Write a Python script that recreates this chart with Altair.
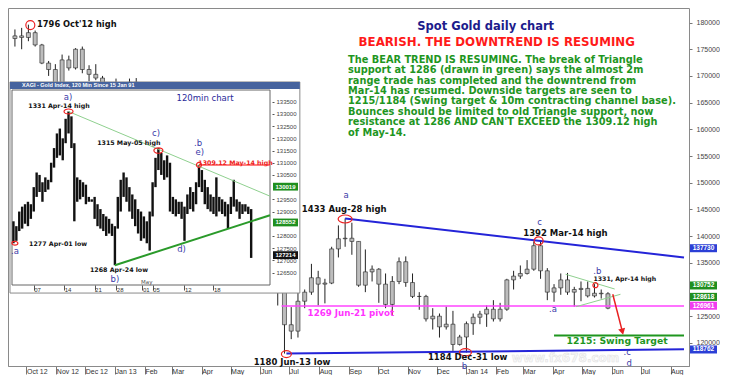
import altair as alt
import pandas as pd

FONT = "DejaVu Sans"
AXFONT = "Liberation Sans"

# ---------------- main daily chart: weekly OHLC ----------------
week_start = pd.date_range("2012-09-17", periods=89, freq="7D")
w_open = [1770, 1775, 1772, 1781, 1758, 1724, 1712, 1677, 1730, 1715, 1750, 1712, 1703, 1696, 1658, 1657,
          1656, 1662, 1688, 1658, 1668, 1667, 1610, 1575, 1572, 1578, 1592, 1608, 1597, 1579, 1476, 1405, 1463,
          1470, 1435, 1360, 1387, 1392, 1384, 1387, 1296,
          1234, 1222, 1278, 1295, 1322, 1310, 1312, 1376, 1395, 1396, 1390, 1308, 1333, 1338, 1310, 1272, 1315,
          1352, 1313, 1287, 1287, 1245, 1250, 1230, 1235, 1197, 1211,
          1236, 1248, 1254, 1263, 1245, 1263, 1318, 1325, 1330, 1338, 1382, 1335, 1295, 1303, 1318, 1295, 1300,
          1302, 1288, 1293, 1292]
w_high = [1787, 1790, 1796, 1785, 1760, 1728, 1722, 1740, 1738, 1752, 1755, 1720, 1722, 1700, 1670, 1695,
          1678, 1695, 1696, 1685, 1684, 1678, 1615, 1620, 1590, 1598, 1617, 1612, 1605, 1590, 1480, 1480, 1488,
          1480, 1440, 1415, 1415, 1425, 1395, 1392, 1298,
          1267, 1297, 1300, 1348, 1335, 1320, 1380, 1420, 1433, 1425, 1390, 1375, 1345, 1340, 1330, 1325, 1360,
          1362, 1330, 1295, 1290, 1265, 1255, 1268, 1260, 1215, 1240,
          1255, 1260, 1270, 1280, 1275, 1320, 1335, 1345, 1355, 1390, 1392, 1340, 1310, 1330, 1331, 1305, 1315,
          1315, 1310, 1300, 1295]
w_low = [1755, 1750, 1765, 1755, 1722, 1700, 1673, 1677, 1710, 1712, 1705, 1690, 1692, 1635, 1646, 1626,
         1645, 1660, 1655, 1653, 1660, 1605, 1555, 1565, 1563, 1575, 1590, 1590, 1540, 1475, 1321, 1395, 1440,
         1430, 1340, 1335, 1375, 1375, 1366, 1270, 1180,
         1207, 1210, 1265, 1290, 1270, 1274, 1310, 1360, 1380, 1365, 1305, 1295, 1315, 1275, 1265, 1251, 1310,
         1305, 1284, 1262, 1240, 1225, 1210, 1225, 1185, 1195, 1182,
         1215, 1235, 1230, 1240, 1240, 1260, 1300, 1320, 1328, 1335, 1320, 1280, 1277, 1290, 1290, 1268, 1278,
         1285, 1285, 1283, 1263]
w_close = [1775, 1772, 1781, 1758, 1724, 1712, 1677, 1730, 1715, 1750, 1712, 1703, 1696, 1658, 1657, 1656,
           1662, 1688, 1658, 1668, 1667, 1610, 1575, 1572, 1578, 1592, 1608, 1597, 1579, 1476, 1405, 1463, 1470,
           1435, 1360, 1387, 1392, 1384, 1387, 1296, 1234,
           1222, 1278, 1295, 1322, 1310, 1312, 1376, 1395, 1396, 1390, 1308, 1333, 1338, 1310, 1272, 1315, 1352,
           1313, 1287, 1287, 1245, 1250, 1230, 1235, 1197, 1211, 1236,
           1248, 1254, 1263, 1245, 1263, 1318, 1325, 1330, 1338, 1382, 1335, 1295, 1303, 1318, 1295, 1300, 1302,
           1288, 1293, 1292, 1265]

# 1300 sits under the value tags in the reference
y_ticks = [1200, 1250, 1350, 1400, 1450, 1500, 1550, 1600, 1650, 1700, 1750, 1800]

# trend / target lines (start date, start price, end date, end price)
ln_d1 = ["2013-08-28", "2013-06-28", "2013-06-23", "2014-04-02", "2014-04-14", "2014-04-25", "2014-06-02"]
ln_p1 = [1433, 1180, 1269, 1214, 1328.5, 1267.8, 1291]
ln_d2 = ["2014-08-15", "2014-08-15", "2014-08-15", "2014-08-15", "2014-06-04", "2014-06-10", "2014-06-12"]
ln_p2 = [1360, 1188, 1269, 1214, 1300.9, 1291, 1221]
ln_color = ["#2424d8", "#2424d8", "#ff44ff", "#1f961f", "#8fd08f", "#8fd08f", "#e82020"]
ln_width = [2, 2, 1.6, 2, 1, 1, 1.5]

# red circled pivots
ci_date = ["2012-10-05", "2013-08-28", "2014-03-17", "2013-06-28", "2013-12-31", "2014-05-15"]
ci_price = [1795.3, 1432, 1391, 1179, 1182.4, 1308]
ci_w = [9, 14, 9, 10, 12, 5]
ci_ratio = [1.0, 0.57, 0.9, 0.7, 0.6, 1.0]

# bold annotations (left aligned)
an_date = ["2012-10-12", "2013-07-14", "2014-03-01", "2014-05-13", "2013-07-20", "2013-05-25", "2013-11-22",
           "2014-04-15", "2013-11-11", "2013-09-11"]
an_price = [1795.3, 1450.2, 1405.8, 1319.7, 1256.6, 1164.8, 1173.5, 1203.6, 1792.1, 1764.0]
an_text = ["1796 Oct'12 high", "1433 Aug-28 high", "1392 Mar-14 high", "1331, Apr-14 high", "1269 Jun-21 pivot",
           "1180 Jun-13 low", "1184 Dec-31 low", "1215: Swing Target", "Spot Gold daily chart",
           "BEARISH. THE DOWNTREND IS RESUMING"]
an_color = ["#111111", "#111111", "#111111", "#111111", "#ff33ff", "#111111", "#111111", "#1f961f", "#1c1c8c",
            "#ff1a1a"]
an_size = [8.3, 8.5, 8.5, 6.2, 8.7, 8.5, 8.5, 9.3, 11.5, 11.8]

para_lines = [
    "The BEAR TREND IS RESUMING. The break of Triangle",
    "support at 1286 (drawn in green) says the almost 2m",
    "range trade has completed and the downtrend from",
    "Mar-14 has resumed. Downside targets are seen to",
    "1215/1184 (Swing target & 10m contracting channel base).",
    "Bounces should be limited to old Triangle support, now",
    "resistance at 1286 AND CAN'T EXCEED the 1309.12 high",
    "of May-14.",
]
para_date = "2013-08-31"
para_price = 1739.7

wv_date = ["2013-08-29", "2014-03-18", "2014-05-17", "2014-04-01", "2013-12-30", "2014-06-17", "2014-06-19"]
wv_price = [1477, 1425.8, 1334.6, 1262.9, 1156.5, 1183.0, 1162.5]
wv_text = ["a", "c", ".b", ".a", "b", ".c", "d"]

tag_price = [1377.30, 1307.52, 1286.18, 1269.61, 1187.62]
tag_text = ["137730", "130752", "128618", "126961", "118762"]
tag_color = ["#2b3fd6", "#1f8f1f", "#1f8f1f", "#f03cf0", "#2b3fd6"]

# ---------------- inset 120-min chart (half-day bars) ----------------
in_low = [1277, 1278, 1282, 1283, 1285, 1284, 1287, 1290, 1296, 1298, 1294, 1298, 1299, 1302, 1308, 1312, 1313,
          1311, 1318, 1322, 1316, 1286, 1294, 1295, 1296, 1293, 1294, 1294, 1287, 1284, 1283, 1282, 1280, 1281,
          1280, 1268, 1283, 1290, 1296, 1294, 1290, 1287, 1284, 1281, 1278, 1279, 1277, 1274, 1288, 1300, 1307,
          1305, 1303, 1304, 1290, 1289, 1288, 1289, 1287, 1278, 1289, 1291, 1290, 1293, 1300, 1298, 1293, 1291,
          1290, 1289, 1288, 1290, 1289, 1288, 1283, 1289, 1292, 1290, 1287, 1289, 1290, 1289, 1271]
in_high = [1286, 1284, 1290, 1292, 1293, 1294, 1293, 1300, 1306, 1305, 1302, 1304, 1303, 1310, 1316, 1322, 1324,
           1320, 1328, 1331, 1329, 1318, 1304, 1303, 1302, 1301, 1296, 1295, 1296, 1293, 1291, 1289, 1288, 1287,
           1285, 1284, 1296, 1303, 1306, 1304, 1300, 1297, 1295, 1291, 1290, 1288, 1286, 1290, 1302, 1312, 1316,
           1314, 1311, 1313, 1310, 1296, 1295, 1294, 1294, 1292, 1297, 1300, 1298, 1302, 1309, 1307, 1303, 1300,
           1297, 1296, 1304, 1296, 1295, 1294, 1293, 1296, 1303, 1295, 1294, 1293, 1293, 1292, 1291]

in_x_tick_pos = [7, 17.5, 28, 35.5, 44.5, 48, 59, 69]
in_x_tick_lab = ["07", "14", "21", "28", "01", "05", "12", "18"]
# 1285 and 1300 are hidden under the value tags in the reference
in_y_ticks = [1265, 1270, 1275, 1280, 1290, 1295, 1305, 1310, 1315, 1320, 1325, 1330, 1335]

il_x1 = [19, 35, 64]
il_p1 = [1331, 1268, 1309.12]
il_x2 = [88.5, 88.5, 88.5]
il_p2 = [1296.3, 1288.5, 1309.12]
il_color = ["#8fd08f", "#2a9a2a", "#ff5555"]
il_width = [1, 2, 1.5]

ic_x = [19, 0.5, 50, 64]
ic_price = [1331, 1277, 1315, 1309.12]
ic_w = [9, 6, 9, 5]
ic_ratio = [0.55, 0.6, 0.6, 1.0]

ib_x = [15.7, 39.8, 15.4, 36.4, 76.6]
ib_price = [1333.2, 1318.1, 1276.6, 1266.0, 1310.0]
ib_text = ["1331 Apr-14 high", "1315 May-05 high", "1277 Apr-01 low", "1268 Apr-24 low", "1309.12 May-14 high"]
ib_color = ["#111111", "#111111", "#111111", "#111111", "#ee2222"]

iw_x = [18.8, 49.2, 63.7, 64.3, 0.5, 35.0, 58.0]
iw_price = [1336.9, 1322.3, 1318.0, 1314.3, 1274.0, 1262.2, 1274.6]
iw_text = ["a)", "c)", ".b", "e)", ".a", "b)", "d)"]

itag_price = [1300.19, 1285.52, 1272.14]
itag_text = ["130019", "128552", "127214"]
itag_color = ["#1f8f1f", "#1f8f1f", "#111111"]

# ---------------- geometry ----------------
W, H = 681, 358

# ---------------- scales & axes ----------------
X_MAIN = alt.Scale(type="utc", domain=[alt.DateTime(year=2012, month=9, date=17, utc=True),
                                       alt.DateTime(year=2014, month=8, date=15, utc=True)])
Y_MAIN = alt.Scale(domain=[1156.7, 1827.2], nice=False, zero=False)
AX_X = alt.Axis(orient="bottom", title=None, tickCount={"interval": "month", "step": 1},
                labelExpr="utcFormat(datum.value, (utcmonth(datum.value) == 0 || utcyear(datum.value) == 2012) ? ' %b %y' : ' %b')",
                labelAlign="left", labelBaseline="top", labelPadding=-7, tickSize=8,
                labelFontSize=7, labelFont=AXFONT, labelColor="#333333", labelFlush=False, labelOverlap=False,
                grid=False, domainColor="#8a8a8a", tickColor="#777777")
AX_Y = alt.Axis(orient="right", title=None, values=y_ticks, labelExpr="format(datum.value * 100, 'd')",
                labelFontSize=7, labelFont=AXFONT, labelColor="#444444", tickSize=3, grid=False,
                domainColor="#8a8a8a", domainDash=[1, 1], tickColor="#777777", labelPadding=4)

X_IN = alt.Scale(domain=[-0.5, 88.5], range=[4, 262], nice=False, zero=False)
Y_IN = alt.Scale(domain=[1259.9, 1339.8], range=[277, 82], nice=False, zero=False)
lab_arr = "[" + ",".join("' " + s + "'" for s in in_x_tick_lab) + "]"
pos_arr = "[" + ",".join(str(p) for p in in_x_tick_pos) + "]"
AX_XI = alt.Axis(orient="bottom", offset=-(H - 277), title=None, values=in_x_tick_pos,
                 labelExpr=lab_arr + "[indexof(" + pos_arr + ", datum.value)]",
                 labelAlign="left", labelBaseline="top", labelPadding=-4, tickSize=5,
                 labelFontSize=6, labelFont=AXFONT, labelColor="#333333", domain=False, grid=False,
                 tickColor="#555555", zindex=1, labelOverlap=False, labelFlush=False)
AX_YI = alt.Axis(orient="right", offset=-(W - 264), title=None, values=in_y_ticks,
                 labelExpr="format(datum.value * 100, 'd')", labelFontSize=6, labelFont=AXFONT,
                 labelColor="#444444", tickSize=2, labelPadding=2, domain=False, grid=False,
                 tickColor="#555555", zindex=1)


def mx(f):
    return alt.X(f, type="temporal", scale=X_MAIN, axis=AX_X)


def my(f):
    return alt.Y(f, type="quantitative", scale=Y_MAIN, axis=AX_Y)


def ix(f):
    return alt.X(f, type="quantitative", scale=X_IN, axis=AX_XI)


def iy(f):
    return alt.Y(f, type="quantitative", scale=Y_IN, axis=AX_YI)


def ellipse(r):
    return "M-1,0A1,{0},0,1,1,1,0A1,{0},0,1,1,-1,0Z".format(r)


# ---------------- main layers ----------------
candles = pd.DataFrame({
    "mid": (week_start + pd.Timedelta(days=2)).strftime("%Y-%m-%d"),
    "open": w_open, "high": w_high, "low": w_low, "close": w_close,
})
wick = alt.Chart(candles).mark_rule(color="#222222", strokeWidth=1).encode(
    x=mx("mid"), y=my("low"), y2="high")
body = alt.Chart(candles).mark_bar(size=4, fill="#bdbdbd", stroke="#222222", strokeWidth=0.6).encode(
    x=mx("mid"), y=my("open"), y2="close")

lines_df = pd.DataFrame({"d1": ln_d1, "p1": ln_p1, "d2": ln_d2, "p2": ln_p2, "c": ln_color, "w": ln_width})
lines_main = alt.Chart(lines_df).mark_rule().encode(
    x=mx("d1"), x2="d2", y=my("p1"), y2="p2",
    color=alt.Color("c:N", scale=None), size=alt.Size("w:Q", scale=None))

arrow_df = pd.DataFrame({"d": [ln_d2[-1]], "p": [ln_p2[-1]]})
arrow_head = alt.Chart(arrow_df).mark_point(shape="triangle-down", filled=True, color="#e82020",
                                            size=50, angle=346, opacity=1).encode(x=mx("d"), y=my("p"))

circ_df = pd.DataFrame({"d": ci_date, "p": ci_price,
                        "shape": [ellipse(r) for r in ci_ratio], "size": [w * w for w in ci_w]})
circles_main = alt.Chart(circ_df).mark_point(filled=False, color="#ee2222", strokeWidth=1.2, opacity=1).encode(
    x=mx("d"), y=my("p"), shape=alt.Shape("shape:N", scale=None), size=alt.Size("size:Q", scale=None))

ann_df = pd.DataFrame({"d": an_date, "p": an_price, "t": an_text, "c": an_color, "s": an_size})
ann_main = alt.Chart(ann_df).mark_text(align="left", baseline="middle", fontWeight="bold", font=FONT).encode(
    x=mx("d"), y=my("p"), text="t:N", color=alt.Color("c:N", scale=None), size=alt.Size("s:Q", scale=None))

para_df = pd.DataFrame({"d": [para_date], "p": [para_price], "t": ["\n".join(para_lines)]})
para = alt.Chart(para_df).mark_text(align="left", baseline="top", fontWeight="bold", font=FONT, fontSize=9.8,
                                    lineBreak="\n", lineHeight=10.4, color="#1f961f").encode(
    x=mx("d"), y=my("p"), text="t:N")

wave_df = pd.DataFrame({"d": wv_date, "p": wv_price, "t": wv_text})
waves = alt.Chart(wave_df).mark_text(align="center", baseline="middle", font=FONT, fontSize=8.5,
                                     color="#3a3aa8").encode(x=mx("d"), y=my("p"), text="t:N")

wm_df = pd.DataFrame({"d": ["2014-04-14"], "p": [1171.0], "t": ["www.fx678.com"]})
watermark = alt.Chart(wm_df).mark_text(align="center", baseline="middle", font=FONT, fontSize=12,
                                       fontWeight="bold", fill="#f4f4f4", stroke="#d0d0d0", strokeWidth=0.6,
                                       opacity=0.6).encode(x=mx("d"), y=my("p"), text="t:N")

tag_df = pd.DataFrame({"p": tag_price, "top": [v + 7.5 for v in tag_price], "bot": [v - 7.5 for v in tag_price],
                       "t": tag_text, "c": tag_color})
tag_rect = alt.Chart(tag_df).mark_rect().encode(
    x=alt.value(W + 1), x2=alt.value(W + 28), y=my("top"), y2="bot", color=alt.Color("c:N", scale=None))
tag_txt = alt.Chart(tag_df).mark_text(font=AXFONT, fontSize=6.5, fontWeight="bold", color="white",
                                      baseline="middle").encode(x=alt.value(W + 14.5), y=my("p"), text="t:N")

main = alt.layer(wick, body, watermark, lines_main, arrow_head, circles_main, ann_main, para, waves,
                 tag_rect, tag_txt)

# ---------------- inset layers ----------------
win_df = pd.DataFrame({"x1": [-1.19], "x2": [98.8], "p1": [1256.6], "p2": [1343.1]})
win_rect = alt.Chart(win_df).mark_rect(fill="white", stroke="#8a8a8a", strokeWidth=1).encode(
    x=ix("x1"), x2="x2", y=iy("p1"), y2="p2")
bar_df = pd.DataFrame({"x1": [-1.19], "x2": [98.8], "p1": [1340.2], "p2": [1343.1]})
title_bar = alt.Chart(bar_df).mark_rect(fill="#46639e").encode(x=ix("x1"), x2="x2", y=iy("p1"), y2="p2")
tt_df = pd.DataFrame({"x": [2.95], "p": [1341.65], "t": ["XAGI - Gold Index, 120 Min  Since 15 Jan 91"]})
title_txt = alt.Chart(tt_df).mark_text(align="left", baseline="middle", font=AXFONT, fontSize=5.5,
                                       fontWeight="bold", color="white").encode(x=ix("x"), y=iy("p"), text="t:N")
fr_df = pd.DataFrame({"x1": [-0.5], "x2": [88.5], "p1": [1259.9], "p2": [1339.8]})
frame = alt.Chart(fr_df).mark_rect(fill="transparent", stroke="#666666", strokeWidth=1).encode(
    x=ix("x1"), x2="x2", y=iy("p1"), y2="p2")

ibars_df = pd.DataFrame({"i": list(range(len(in_low))), "lo": in_low, "hi": in_high})
inset_bars = alt.Chart(ibars_df).mark_rule(color="#111111", strokeWidth=2.4).encode(
    x=ix("i"), y=iy("lo"), y2="hi")

il_df = pd.DataFrame({"x1": il_x1, "p1": il_p1, "x2": il_x2, "p2": il_p2, "c": il_color, "w": il_width})
inset_lines = alt.Chart(il_df).mark_rule().encode(
    x=ix("x1"), x2="x2", y=iy("p1"), y2="p2",
    color=alt.Color("c:N", scale=None), size=alt.Size("w:Q", scale=None))

ic_df = pd.DataFrame({"x": ic_x, "p": ic_price, "shape": [ellipse(r) for r in ic_ratio],
                      "size": [w * w for w in ic_w]})
inset_circles = alt.Chart(ic_df).mark_point(filled=False, color="#ee2222", strokeWidth=1.2, opacity=1).encode(
    x=ix("x"), y=iy("p"), shape=alt.Shape("shape:N", scale=None), size=alt.Size("size:Q", scale=None))

ib_df = pd.DataFrame({"x": ib_x, "p": ib_price, "t": ib_text, "c": ib_color})
inset_bold = alt.Chart(ib_df).mark_text(align="center", baseline="middle", font=FONT, fontSize=6.3,
                                        fontWeight="bold").encode(
    x=ix("x"), y=iy("p"), text="t:N", color=alt.Color("c:N", scale=None))

iw_df = pd.DataFrame({"x": iw_x, "p": iw_price, "t": iw_text})
inset_blue = alt.Chart(iw_df).mark_text(align="center", baseline="middle", font=FONT, fontSize=8.5,
                                        color="#3a3aa8").encode(x=ix("x"), y=iy("p"), text="t:N")

im_df = pd.DataFrame({"x": [66.1, 46.0], "p": [1336.4, 1261.0], "t": ["120min chart", "May"],
                      "c": ["#2a2a9a", "#555555"], "s": [8.5, 5.5]})
inset_misc = alt.Chart(im_df).mark_text(align="center", baseline="middle", font=FONT).encode(
    x=ix("x"), y=iy("p"), text="t:N", color=alt.Color("c:N", scale=None), size=alt.Size("s:Q", scale=None))

itag_df = pd.DataFrame({"p": itag_price, "top": [v + 1.6 for v in itag_price],
                        "bot": [v - 1.6 for v in itag_price], "t": itag_text, "c": itag_color})
itag_rect = alt.Chart(itag_df).mark_rect().encode(
    x=alt.value(265), x2=alt.value(290), y=iy("top"), y2="bot", color=alt.Color("c:N", scale=None))
itag_txt = alt.Chart(itag_df).mark_text(font=AXFONT, fontSize=6, fontWeight="bold", color="white",
                                        baseline="middle").encode(x=alt.value(277.5), y=iy("p"), text="t:N")

inset = alt.layer(win_rect, title_bar, title_txt, frame, inset_bars, inset_lines, inset_circles, inset_bold,
                  inset_blue, inset_misc, itag_rect, itag_txt)

chart = alt.layer(main, inset).resolve_scale(x="independent", y="independent").properties(
    width=W, height=H, padding=0, background="white"
).configure_view(stroke="#8a8a8a", strokeWidth=1)

chart.save("out.html", embed_options={"renderer": "svg", "actions": False})
